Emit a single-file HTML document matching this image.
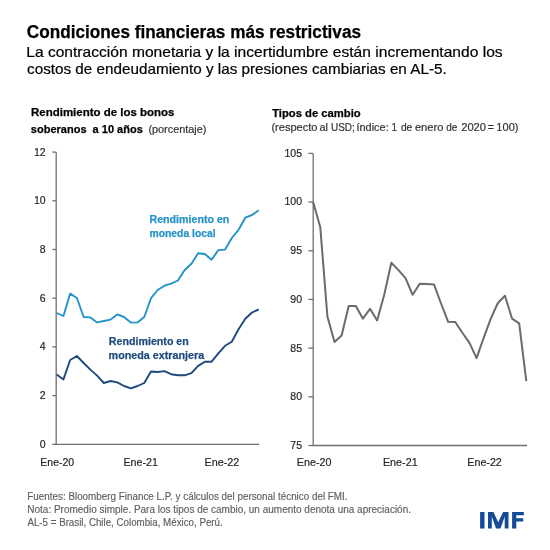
<!DOCTYPE html>
<html><head><meta charset="utf-8"><style>
html,body{margin:0;padding:0;background:#fff;width:550px;height:550px;overflow:hidden}
svg{display:block;font-family:"Liberation Sans", sans-serif;will-change:transform}
text{paint-order:stroke fill;stroke-linejoin:round}
</style></head><body>
<svg width="550" height="550" viewBox="0 0 550 550">
<rect width="550" height="550" fill="#fff"/>
<path d="M56.2,152.10 V444.30 H259.2" fill="none" stroke="#707070" stroke-width="1.3"/>
<path d="M52.3,152.10 H56.2" stroke="#707070" stroke-width="1.3"/>
<text x="45.6" y="155.50" font-size="10.5" font-weight="normal" fill="#262626" stroke="#262626" stroke-width="0.2" text-anchor="end">12</text>
<path d="M52.3,200.80 H56.2" stroke="#707070" stroke-width="1.3"/>
<text x="45.6" y="204.20" font-size="10.5" font-weight="normal" fill="#262626" stroke="#262626" stroke-width="0.2" text-anchor="end">10</text>
<path d="M52.3,249.50 H56.2" stroke="#707070" stroke-width="1.3"/>
<text x="45.6" y="252.90" font-size="10.5" font-weight="normal" fill="#262626" stroke="#262626" stroke-width="0.2" text-anchor="end">8</text>
<path d="M52.3,298.20 H56.2" stroke="#707070" stroke-width="1.3"/>
<text x="45.6" y="301.60" font-size="10.5" font-weight="normal" fill="#262626" stroke="#262626" stroke-width="0.2" text-anchor="end">6</text>
<path d="M52.3,346.90 H56.2" stroke="#707070" stroke-width="1.3"/>
<text x="45.6" y="350.30" font-size="10.5" font-weight="normal" fill="#262626" stroke="#262626" stroke-width="0.2" text-anchor="end">4</text>
<path d="M52.3,395.60 H56.2" stroke="#707070" stroke-width="1.3"/>
<text x="45.6" y="399.00" font-size="10.5" font-weight="normal" fill="#262626" stroke="#262626" stroke-width="0.2" text-anchor="end">2</text>
<path d="M52.3,444.30 H56.2" stroke="#707070" stroke-width="1.3"/>
<text x="45.6" y="447.70" font-size="10.5" font-weight="normal" fill="#262626" stroke="#262626" stroke-width="0.2" text-anchor="end">0</text>
<path d="M313.2,153.40 V445.50 H527" fill="none" stroke="#707070" stroke-width="1.3"/>
<path d="M308.4,153.40 H313.2" stroke="#707070" stroke-width="1.3"/>
<text x="302" y="156.80" font-size="10.5" font-weight="normal" fill="#262626" stroke="#262626" stroke-width="0.2" text-anchor="end">105</text>
<path d="M308.4,202.08 H313.2" stroke="#707070" stroke-width="1.3"/>
<text x="302" y="205.48" font-size="10.5" font-weight="normal" fill="#262626" stroke="#262626" stroke-width="0.2" text-anchor="end">100</text>
<path d="M308.4,250.77 H313.2" stroke="#707070" stroke-width="1.3"/>
<text x="302" y="254.17" font-size="10.5" font-weight="normal" fill="#262626" stroke="#262626" stroke-width="0.2" text-anchor="end">95</text>
<path d="M308.4,299.45 H313.2" stroke="#707070" stroke-width="1.3"/>
<text x="302" y="302.85" font-size="10.5" font-weight="normal" fill="#262626" stroke="#262626" stroke-width="0.2" text-anchor="end">90</text>
<path d="M308.4,348.13 H313.2" stroke="#707070" stroke-width="1.3"/>
<text x="302" y="351.53" font-size="10.5" font-weight="normal" fill="#262626" stroke="#262626" stroke-width="0.2" text-anchor="end">85</text>
<path d="M308.4,396.81 H313.2" stroke="#707070" stroke-width="1.3"/>
<text x="302" y="400.21" font-size="10.5" font-weight="normal" fill="#262626" stroke="#262626" stroke-width="0.2" text-anchor="end">80</text>
<path d="M308.4,445.50 H313.2" stroke="#707070" stroke-width="1.3"/>
<text x="302" y="448.90" font-size="10.5" font-weight="normal" fill="#262626" stroke="#262626" stroke-width="0.2" text-anchor="end">75</text>
<polyline points="56.70,313.00 63.44,316.00 70.17,293.60 76.91,298.00 83.64,317.00 90.38,317.40 97.11,322.40 103.84,321.00 110.58,319.60 117.31,314.40 124.05,317.00 130.79,322.60 137.52,322.40 144.25,317.00 150.99,298.20 157.73,290.00 164.46,285.70 171.19,283.60 177.93,280.50 184.67,270.00 191.40,263.80 198.13,253.30 204.87,254.00 211.61,259.70 218.34,250.10 225.07,249.60 231.81,238.00 238.55,229.80 245.28,217.70 252.01,215.00 258.75,210.30" fill="none" stroke="#2493c8" stroke-width="1.9" stroke-linejoin="round"/>
<polyline points="56.70,374.40 63.44,379.40 70.17,360.00 76.91,356.00 83.64,363.00 90.38,369.60 97.11,375.60 103.84,383.00 110.58,381.00 117.31,382.40 124.05,386.00 130.79,388.40 137.52,386.00 144.25,383.00 150.99,371.50 157.73,372.00 164.46,371.10 171.19,374.20 177.93,375.30 184.67,375.30 191.40,373.20 198.13,365.90 204.87,361.70 211.61,361.70 218.34,353.30 225.07,345.80 231.81,341.80 238.55,329.30 245.28,318.80 252.01,312.50 258.75,309.40" fill="none" stroke="#1d497e" stroke-width="1.9" stroke-linejoin="round"/>
<polyline points="313.20,202.20 320.30,227.30 327.41,316.60 334.51,342.00 341.61,335.60 348.71,305.90 355.82,305.90 362.92,318.70 370.02,308.80 377.13,320.40 384.23,294.80 391.33,262.80 398.44,270.10 405.54,278.20 412.64,294.80 419.75,283.70 426.85,283.90 433.95,284.40 441.05,303.50 448.16,321.80 455.26,322.00 462.36,332.70 469.47,342.90 476.57,358.20 483.67,337.80 490.77,318.70 497.88,303.00 504.98,295.80 512.08,318.70 519.19,323.30 526.29,381.10" fill="none" stroke="#6b6b6b" stroke-width="2" stroke-linejoin="round"/>
<text id="title" x="26.85" y="38.15" font-size="17.6" font-weight="bold" fill="#000" stroke="#000" stroke-width="0.25" textLength="334.20" lengthAdjust="spacingAndGlyphs">Condiciones financieras más restrictivas</text>
<text id="sub1" x="26.25" y="56.55" font-size="14.4" font-weight="normal" fill="#000" stroke="#000" stroke-width="0.2" textLength="476.35" lengthAdjust="spacingAndGlyphs">La contracción monetaria y la incertidumbre están incrementando los</text>
<text id="sub2" x="27.05" y="73.65" font-size="14.4" font-weight="normal" fill="#000" stroke="#000" stroke-width="0.2" textLength="419.65" lengthAdjust="spacingAndGlyphs">costos de endeudamiento y las presiones cambiarias en AL-5.</text>
<text id="ct1a" x="31.05" y="116.3" font-size="11.5" font-weight="bold" fill="#000" stroke="#000" stroke-width="0.25" textLength="143.45" lengthAdjust="spacingAndGlyphs">Rendimiento de los bonos</text>
<text id="ct1b" x="30.85" y="132.5" font-size="11.5" font-weight="bold" fill="#000" stroke="#000" stroke-width="0.25" textLength="111.95" lengthAdjust="spacingAndGlyphs">soberanos&#160;&#160;a 10 años</text>
<text id="ct1c" x="148.40" y="132.5" font-size="11" font-weight="normal" fill="#333333" stroke="#333333" stroke-width="0.2" textLength="58.00" lengthAdjust="spacingAndGlyphs">(porcentaje)</text>
<text id="ct2a" x="272.20" y="116.85" font-size="11.5" font-weight="bold" fill="#000" stroke="#000" stroke-width="0.25" textLength="88.50" lengthAdjust="spacingAndGlyphs">Tipos de cambio</text>
<text id="ct2b0" x="271.40" y="130.9" font-size="10.5" font-weight="normal" fill="#333333" stroke="#333333" stroke-width="0.2" textLength="46.15" lengthAdjust="spacingAndGlyphs">(respecto</text>
<text id="ct2b1" x="319.40" y="130.9" font-size="10.5" font-weight="normal" fill="#333333" stroke="#333333" stroke-width="0.2" textLength="8.50" lengthAdjust="spacingAndGlyphs">al</text>
<text id="ct2b2" x="331.05" y="130.9" font-size="10.5" font-weight="normal" fill="#333333" stroke="#333333" stroke-width="0.2" textLength="23.65" lengthAdjust="spacingAndGlyphs">USD;</text>
<text id="ct2b3" x="356.50" y="130.9" font-size="10.5" font-weight="normal" fill="#333333" stroke="#333333" stroke-width="0.2" textLength="32.20" lengthAdjust="spacingAndGlyphs">índice:</text>
<text id="ct2b4" x="391.45" y="130.9" font-size="10.5" font-weight="normal" fill="#333333" stroke="#333333" stroke-width="0.2" textLength="5.60" lengthAdjust="spacingAndGlyphs">1</text>
<text id="ct2b5" x="400.90" y="130.9" font-size="10.5" font-weight="normal" fill="#333333" stroke="#333333" stroke-width="0.2" textLength="11.45" lengthAdjust="spacingAndGlyphs">de</text>
<text id="ct2b6" x="414.90" y="130.9" font-size="10.5" font-weight="normal" fill="#333333" stroke="#333333" stroke-width="0.2" textLength="28.45" lengthAdjust="spacingAndGlyphs">enero</text>
<text id="ct2b7" x="446.25" y="130.9" font-size="10.5" font-weight="normal" fill="#333333" stroke="#333333" stroke-width="0.2" textLength="11.05" lengthAdjust="spacingAndGlyphs">de</text>
<text id="ct2b8" x="461.20" y="130.9" font-size="10.5" font-weight="normal" fill="#333333" stroke="#333333" stroke-width="0.2" textLength="24.80" lengthAdjust="spacingAndGlyphs">2020</text>
<text id="ct2b9" x="487.75" y="130.9" font-size="10.5" font-weight="normal" fill="#333333" stroke="#333333" stroke-width="0.2" textLength="6.15" lengthAdjust="spacingAndGlyphs">=</text>
<text id="ct2b10" x="496.35" y="130.9" font-size="10.5" font-weight="normal" fill="#333333" stroke="#333333" stroke-width="0.2" textLength="22.10" lengthAdjust="spacingAndGlyphs">100)</text>
<text id="xl0" x="40.30" y="465.8" font-size="11" font-weight="normal" fill="#262626" stroke="#262626" stroke-width="0.2" textLength="33.90" lengthAdjust="spacingAndGlyphs">Ene-20</text>
<text id="xl1" x="123.45" y="465.8" font-size="11" font-weight="normal" fill="#262626" stroke="#262626" stroke-width="0.2" textLength="34.50" lengthAdjust="spacingAndGlyphs">Ene-21</text>
<text id="xl2" x="204.45" y="465.8" font-size="11" font-weight="normal" fill="#262626" stroke="#262626" stroke-width="0.2" textLength="34.90" lengthAdjust="spacingAndGlyphs">Ene-22</text>
<text id="xl3" x="296.80" y="465.8" font-size="11" font-weight="normal" fill="#262626" stroke="#262626" stroke-width="0.2" textLength="34.70" lengthAdjust="spacingAndGlyphs">Ene-20</text>
<text id="xl4" x="382.95" y="465.8" font-size="11" font-weight="normal" fill="#262626" stroke="#262626" stroke-width="0.2" textLength="34.70" lengthAdjust="spacingAndGlyphs">Ene-21</text>
<text id="xl5" x="467.30" y="465.8" font-size="11" font-weight="normal" fill="#262626" stroke="#262626" stroke-width="0.2" textLength="34.50" lengthAdjust="spacingAndGlyphs">Ene-22</text>
<text id="lb1" x="149.50" y="223.35" font-size="11.5" font-weight="bold" fill="#2493c8" stroke="#2493c8" stroke-width="0.25" textLength="79.85" lengthAdjust="spacingAndGlyphs">Rendimiento en</text>
<text id="lb2" x="149.50" y="237.4" font-size="11.5" font-weight="bold" fill="#2493c8" stroke="#2493c8" stroke-width="0.25" textLength="66.10" lengthAdjust="spacingAndGlyphs">moneda local</text>
<text id="db1" x="108.85" y="345.15" font-size="11.5" font-weight="bold" fill="#1d497e" stroke="#1d497e" stroke-width="0.25" textLength="79.95" lengthAdjust="spacingAndGlyphs">Rendimiento en</text>
<text id="db2" x="108.60" y="359.0" font-size="11.5" font-weight="bold" fill="#1d497e" stroke="#1d497e" stroke-width="0.25" textLength="95.55" lengthAdjust="spacingAndGlyphs">moneda extranjera</text>
<text id="fn1" x="27.30" y="500.35" font-size="10.0" font-weight="normal" fill="#5e5e5e" stroke="#5e5e5e" stroke-width="0.15" textLength="320.25" lengthAdjust="spacingAndGlyphs">Fuentes: Bloomberg Finance L.P. y cálculos del personal técnico del FMI.</text>
<text id="fn2" x="27.30" y="512.95" font-size="10.0" font-weight="normal" fill="#5e5e5e" stroke="#5e5e5e" stroke-width="0.15" textLength="383.70" lengthAdjust="spacingAndGlyphs">Nota: Promedio simple. Para los tipos de cambio, un aumento denota una apreciación.</text>
<text id="fn3" x="27.45" y="525.55" font-size="10.0" font-weight="normal" fill="#5e5e5e" stroke="#5e5e5e" stroke-width="0.15" textLength="195.25" lengthAdjust="spacingAndGlyphs">AL-5 = Brasil, Chile, Colombia, México, Perú.</text>
<path fill="#154a97" d="M480.1,512 H484.5 V528.6 H480.1 Z M488,528.6 V512 H493.4 L498.25,522.2 L503.1,512 H508.5 V528.6 H504.7 V516.6 L500.5,528.6 H496 L491.8,516.6 V528.6 Z M512.1,528.6 V512 H523.9 V515.3 H516.3 V518.3 H523.2 V521.5 H516.3 V528.6 Z"/>
</svg>
</body></html>
